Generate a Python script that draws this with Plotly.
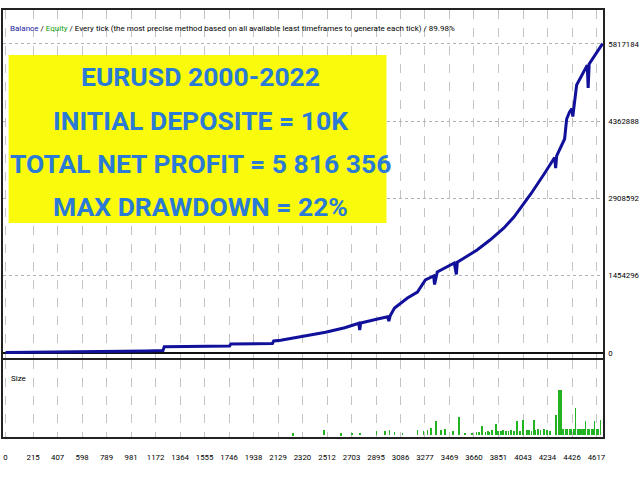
import plotly.graph_objects as go

# balance curve (trade number, balance)
trade_no = [0, 300, 700, 1100, 1230, 1240, 1750, 1760, 2085, 2095, 2150, 2250,
            2386, 2500, 2650, 2760, 2767, 2775, 2907, 2985, 2995, 3005, 3039,
            3140, 3218, 3280, 3345, 3352, 3373, 3506, 3522, 3530, 3583, 3684,
            3785, 3894, 3972, 4104, 4213, 4290, 4298, 4306, 4368, 4384, 4407,
            4425, 4432, 4462, 4545, 4552, 4560, 4633, 4665]
balance = [10000, 15000, 25000, 40000, 48000, 120000, 130000, 170000, 180000,
           226000, 240000, 280000, 339000, 390000, 476000, 560000, 430000,
           565000, 640000, 683000, 600000, 700000, 847000, 1035000, 1148000,
           1374000, 1450000, 1290000, 1525000, 1694000, 1480000, 1710000,
           1788000, 1939000, 2127000, 2353000, 2560000, 2993000, 3389000,
           3680000, 3480000, 3709000, 4029000, 4405000, 4537000, 4600000,
           4450000, 5045000, 5420000, 4990000, 5441000, 5704000, 5826000]

# lot sizes of the trades (bottom panel)
size_trade = [2246, 2487, 2620, 2705, 2767, 2899, 2962, 3000, 3039, 3101, 3218,
              3265, 3296, 3327, 3366, 3405, 3436, 3498, 3545, 3591, 3646, 3680,
              3700, 3723, 3750, 3770, 3780, 3801, 3832, 3850, 3870, 3887, 3910,
              3930, 3949, 3970, 3996, 4020, 4042, 4073, 4090, 4110, 4127, 4140,
              4158, 4180, 4205, 4230, 4252, 4298, 4322, 4337, 4350, 4360, 4376,
              4390, 4407, 4420, 4440, 4454, 4470, 4490, 4501, 4520, 4532, 4550,
              4560, 4578, 4590, 4602, 4620, 4630, 4648]
size_lot = [0.2, 0.5, 0.2, 0.25, 0.25, 0.4, 0.4, 0.5, 0.3, 0.25, 0.5, 0.4, 0.5,
            0.75, 1.4, 0.5, 0.65, 0.4, 1.8, 0.25, 0.25, 0.3, 0.3, 0.9, 0.3, 0.4,
            0.3, 0.5, 1.1, 0.4, 0.4, 0.5, 0.4, 0.4, 0.5, 0.4, 1.4, 0.4, 1.55,
            0.5, 0.5, 0.4, 1.5, 0.5, 0.6, 0.5, 0.6, 0.5, 0.4, 2.0, 4.6, 4.6,
            0.6, 0.6, 0.6, 0.6, 0.6, 0.6, 0.6, 2.7, 0.6, 0.6, 0.6, 0.6, 1.4,
            0.6, 0.6, 0.6, 0.6, 1.4, 0.6, 0.6, 1.55]

x_ticks = [0, 215, 407, 598, 789, 981, 1172, 1364, 1555, 1746, 1938, 2129,
           2320, 2512, 2703, 2895, 3086, 3277, 3469, 3660, 3851, 4043, 4234,
           4426, 4617]
y_ticks = [0, 1454296, 2908592, 4362888, 5817184]

info_lines = ["EURUSD 2000-2022", "INITIAL DEPOSITE = 10K",
              "TOTAL NET PROFIT = 5 816 356", "MAX DRAWDOWN = 22%"]

small = "Roboto, Liberation Sans Narrow, sans-serif"
W, H = 640, 480

fig = go.Figure()
fig.add_trace(go.Scatter(x=trade_no, y=balance, mode="lines",
                         line=dict(color="#10109a", width=3),
                         xaxis="x", yaxis="y", showlegend=False))
fig.add_trace(go.Bar(x=size_trade, y=size_lot, width=6,
                     marker=dict(color="#22b222", line=dict(width=0)),
                     xaxis="x2", yaxis="y2", showlegend=False))

xrange = [-20, 4668]
fig.update_layout(
    width=W, height=H,
    margin=dict(l=3, r=34, t=0, b=0),
    paper_bgcolor="white", plot_bgcolor="white",
    font=dict(family=small, size=7.8, color="black"),
    xaxis=dict(range=xrange, tickvals=x_ticks, showticklabels=False,
               showgrid=True, gridcolor="#c4c4c4", griddash="dash", gridwidth=1,
               showline=True, linecolor="#222", linewidth=1.5, mirror=True,
               zeroline=False, anchor="y"),
    yaxis=dict(domain=[(H - 358) / H, (H - 10) / H], range=[-94000, 6457000],
               tickvals=y_ticks, ticktext=[str(v) for v in y_ticks],
               side="right", ticks="outside", ticklen=2,
               tickcolor="rgba(0,0,0,0)",
               showgrid=True, gridcolor="#b0b0b0", griddash="dot", gridwidth=1,
               zeroline=True, zerolinecolor="#111", zerolinewidth=2,
               showline=True, linecolor="#222", linewidth=1.5, mirror=True,
               anchor="x"),
    xaxis2=dict(range=xrange, tickvals=x_ticks, ticktext=[str(v) for v in x_ticks],
                ticks="outside", ticklen=12, tickcolor="rgba(0,0,0,0)",
                showgrid=True, gridcolor="#c4c4c4", griddash="dash", gridwidth=1,
                showline=True, linecolor="#222", linewidth=1.5, mirror=True,
                zeroline=False, anchor="y2"),
    yaxis2=dict(domain=[(H - 437) / H, (H - 360) / H], range=[-0.2, 7.6],
                showticklabels=False, showgrid=False, zeroline=False,
                showline=True, linecolor="#222", linewidth=1.5, mirror=True,
                anchor="x2"),
    bargap=0,
)

# yellow info box
fig.add_shape(type="rect", xref="paper", yref="paper", layer="above",
              x0=6 / W, x1=409 / W, y0=(H - 223) / H, y1=(H - 55) / H,
              fillcolor="#fafa0c", line=dict(width=0))
line_y = [76, 120, 163, 206]
for txt, yy in zip(info_lines, line_y):
    fig.add_annotation(text="<b>" + txt + "</b>", xref="paper", yref="paper",
                       x=211 / W, y=(H - yy) / H, xanchor="center", yanchor="middle",
                       showarrow=False,
                       font=dict(family="Roboto, sans-serif", size=26.5, color="#2a7ad6"))

fig.add_annotation(
    text="<span style='color:#1a1aa0'>Balance</span> / "
         "<span style='color:#10a010'>Equity</span> / Every tick (the most precise "
         "method based on all available least timeframes to generate each tick) / 89.98%",
    xref="paper", yref="paper", x=5 / W, y=(H - 28) / H,
    xanchor="left", yanchor="middle", showarrow=False,
    font=dict(family=small, size=8, color="black"))
fig.add_annotation(text="Size", xref="paper", yref="paper", x=6 / W, y=(H - 378) / H,
                   xanchor="left", yanchor="middle", showarrow=False,
                   font=dict(family=small, size=8, color="black"))

fig.write_html("out.html", config={"displayModeBar": False},
               post_script="document.body.style.margin='0';")
